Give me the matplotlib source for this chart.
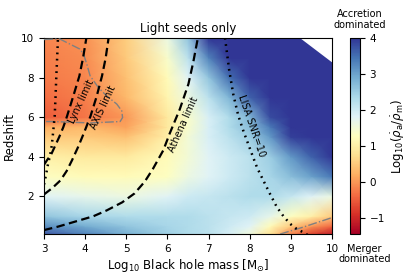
import numpy as np
import matplotlib
matplotlib.use('Agg')
from matplotlib import pyplot as plt

# grid of log10(rho_a/rho_m)
mass_grid = [3.0, 4.0, 5.0, 6.0, 6.5, 7.0, 7.5, 8.0, 8.5, 9.0, 9.5, 10.0]
z_grid = [0.0, 0.5, 1.0, 2.0, 3.0, 4.0, 5.0, 5.5, 6.0, 7.0, 8.0, 9.0, 10.0]
ratio = [
    [3.8, 3.4, 2.9, 2.5, 2.3, 2.2, 1.9, 1.5, 0.7, -0.3, -0.9, -1.3],
    [3.2, 2.9, 2.6, 2.4, 2.3, 2.2, 2.0, 1.8, 1.2, 0.5, 0.0, -0.4],
    [2.6, 2.4, 2.3, 2.3, 2.3, 2.2, 2.1, 2.0, 1.7, 1.3, 1.0, 0.5],
    [1.8, 1.7, 1.6, 1.8, 2.0, 2.1, 2.2, 2.3, 2.3, 2.1, 1.8, 1.6],
    [1.3, 1.2, 1.2, 1.3, 1.6, 1.8, 2.0, 2.2, 2.4, 2.7, 3.0, 3.4],
    [1.0, 0.9, 0.9, 1.2, 1.5, 1.8, 2.0, 2.2, 2.5, 3.1, 3.6, 4.1],
    [0.5, 0.5, 0.4, 1.0, 1.5, 1.9, 2.2, 2.5, 3.1, 3.9, 4.3, 4.3],
    [0.2, 0.3, 0.1, 0.9, 1.4, 1.9, 2.3, 2.7, 3.4, 4.2, 4.3, 4.3],
    [-0.5, -0.3, 0.0, 0.9, 1.4, 1.9, 2.3, 2.8, 3.8, 4.3, 4.3, 4.3],
    [-0.35, -0.2, 0.3, 1.1, 1.6, 2.2, 2.8, 3.6, 4.3, 4.3, 4.3, 4.3],
    [-0.25, -0.15, 0.4, 1.2, 1.8, 2.6, 3.5, 4.3, 4.3, 4.3, 4.3, 4.3],
    [-0.2, -0.1, 0.5, 1.4, 2.2, 3.3, 4.3, 4.3, 4.3, 4.3, 4.3, 4.3],
    [-0.15, -0.05, 0.55, 1.6, 2.6, 4.0, 4.3, 4.3, 4.3, 4.3, 4.3, 4.3],
]

# no data in the upper right corner
blank_m = [9.22, 10.0, 10.0]
blank_z = [10.0, 8.77, 10.0]

# detection limits
dot_m = [3.0, 3.05, 3.1, 3.15, 3.19, 3.22, 3.26, 3.28, 3.30, 3.32, 3.34]
dot_z = [2.6, 3.1, 3.66, 4.1, 4.58, 5.2, 6.05, 7.0, 8.08, 9.0, 10.0]
lynx_m = [3.0, 3.08, 3.17, 3.27, 3.37, 3.47, 3.56, 3.71, 3.86, 3.95, 4.03]
lynx_z = [3.6, 3.85, 4.1, 4.55, 5.0, 5.5, 6.05, 7.05, 8.08, 9.0, 10.0]
axis_m = [3.0, 3.2, 3.4, 3.55, 3.68, 3.83, 3.97, 4.13, 4.28, 4.41, 4.5, 4.57]
axis_z = [2.1, 2.42, 2.81, 3.28, 3.82, 4.5, 5.2, 6.05, 7.05, 8.08, 9.0, 10.0]
athena_m = [3.0, 3.35, 3.71, 4.2, 4.52, 4.9, 5.2, 5.45, 5.65, 5.9, 6.06, 6.3, 6.51, 6.63, 6.74]
athena_z = [0.3, 0.48, 0.70, 1.0, 1.29, 1.7, 2.15, 2.75, 3.4, 4.33, 5.2, 6.4, 7.67, 8.8, 10.0]
lisa_m = [7.40, 7.5, 7.6, 7.72, 7.85, 8.05, 8.18, 8.33, 8.5, 8.66, 8.82, 8.98, 9.14, 9.30, 9.45]
lisa_z = [10.0, 8.4, 7.16, 6.1, 5.28, 4.16, 3.45, 2.81, 2.1, 1.46, 1.0, 0.62, 0.36, 0.19, 0.0]

# ratio = 1 contours
c1_m = [3.0, 3.38, 3.87, 3.96, 4.04, 4.12, 4.32, 4.52, 4.77, 4.89, 4.91, 4.85, 4.12, 3.23, 3.0]
c1_z = [9.92, 9.95, 9.44, 9.19, 8.68, 8.09, 7.5, 7.08, 6.66, 6.32, 5.98, 5.78, 5.71, 5.78, 5.78]
c2_m = [8.74, 9.3, 10.0]
c2_z = [0.1, 0.45, 0.93]

fig = plt.figure(figsize=(4.15, 2.77), dpi=100)
ax = fig.add_axes([0.106, 0.155, 0.694, 0.708])
cax = fig.add_axes([0.843, 0.155, 0.024, 0.708])

M, Z = np.meshgrid(mass_grid, z_grid)
im = ax.pcolormesh(M, Z, np.array(ratio), shading='gouraud', cmap='RdYlBu',
                   vmin=-1.45, vmax=4, rasterized=True)
ax.fill(blank_m, blank_z, color='white', lw=0, zorder=2)

ax.plot(c1_m, c1_z, color='grey', ls='-.', lw=1.0, zorder=3)
ax.plot(c2_m, c2_z, color='grey', ls='-.', lw=1.0, zorder=3)

dash = (0, (3.8, 2.0))
dots = (0, (0.7, 1.8))
ax.plot(dot_m, dot_z, color='black', ls=dots, lw=1.8, zorder=4)
ax.plot(lynx_m, lynx_z, color='black', ls=dash, lw=1.6, zorder=4)
ax.plot(axis_m, axis_z, color='black', ls=dash, lw=1.6, zorder=4)
ax.plot(athena_m, athena_z, color='black', ls=dash, lw=1.6, zorder=4)
ax.plot(lisa_m, lisa_z, color='black', ls=dots, lw=1.8, zorder=4)

fs = 7
ax.text(3.9, 6.8, 'Lynx limit', rotation=65, fontsize=fs, ha='center', va='center')
ax.text(4.45, 6.48, 'AXIS limit', rotation=65, fontsize=fs, ha='center', va='center')
ax.text(6.40, 5.65, 'Athena limit', rotation=66, fontsize=fs, ha='center', va='center')
ax.text(8.03, 5.58, 'LISA SNR=10', rotation=-71, fontsize=fs, ha='center', va='center')

ax.set_xlim(3, 10)
ax.set_ylim(0.1, 10)
ax.set_xticks([3, 4, 5, 6, 7, 8, 9, 10])
ax.set_yticks([2, 4, 6, 8, 10])
ax.tick_params(labelsize=7.5)
ax.set_xlabel(r'Log$_{10}$ Black hole mass [M$_{\odot}$]', fontsize=8.5, labelpad=2)
ax.set_ylabel('Redshift', fontsize=8.5)
ax.set_title('Light seeds only', fontsize=8.5, pad=4)

cb = fig.colorbar(im, cax=cax)
cb.set_ticks([-1, 0, 1, 2, 3, 4])
cb.ax.tick_params(labelsize=7.5)
cb.set_label(r'Log$_{10}(\dot{\rho}_{\rm a}/\dot{\rho}_{\rm m})$', fontsize=8.5, labelpad=3)
cb.outline.set_linewidth(0.8)
fig.text(0.868, 0.93, 'Accretion\ndominated', fontsize=7, ha='center', va='center', linespacing=1.05)
fig.text(0.878, 0.082, 'Merger\ndominated', fontsize=7, ha='center', va='center', linespacing=1.05)

fig.savefig('out.png', dpi=100)
